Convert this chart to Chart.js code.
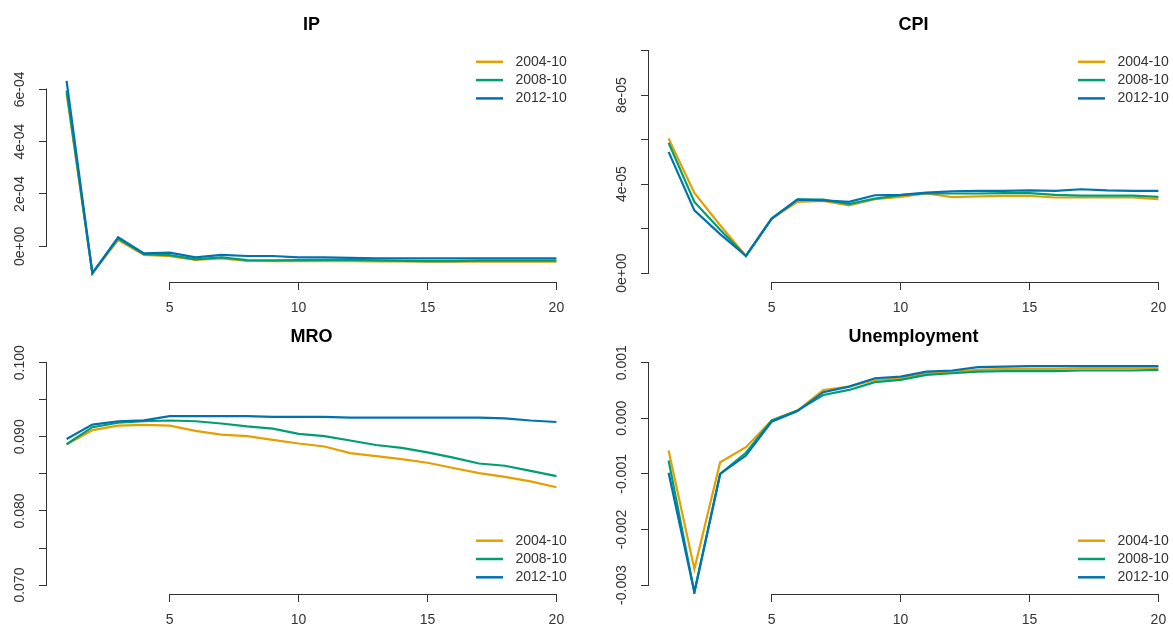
<!DOCTYPE html>
<html>
<head>
<meta charset="utf-8">
<script src="https://cdn.jsdelivr.net/npm/chart.js@4.4.1/dist/chart.umd.min.js"></script>
<style>
html,body{margin:0;padding:0;background:#fff;overflow:hidden;width:1173px;height:630px;}
#wrap{position:relative;width:1173px;height:630px;overflow:hidden;background:#fff;}
canvas{position:absolute;}
</style>
</head>
<body>
<div id="wrap">
<canvas id="cIP" width="603" height="318" style="left:0px;top:0px"></canvas>
<canvas id="cCPI" width="603" height="318" style="left:602px;top:0px"></canvas>
<canvas id="cMRO" width="603" height="318" style="left:0px;top:312px"></canvas>
<canvas id="cUN" width="603" height="318" style="left:602px;top:312px"></canvas>
</div>
<script>
// ---------------- data ----------------
const horizons = [1,2,3,4,5,6,7,8,9,10,11,12,13,14,15,16,17,18,19,20];
const seriesLabels = ['2004-10','2008-10','2012-10'];
const xTickValues = [5,10,15,20];
const xTickLabels = ['5','10','15','20'];

const ip2004 = [5.85e-4,-1.03e-4,2.4e-5,-3.3e-5,-3.8e-5,-5.2e-5,-4.6e-5,-5.6e-5,-5.7e-5,-5.7e-5,-5.7e-5,-5.7e-5,-5.8e-5,-5.8e-5,-5.9e-5,-5.9e-5,-5.9e-5,-5.9e-5,-5.9e-5,-5.9e-5];
const ip2008 = [5.95e-4,-1.03e-4,3.0e-5,-3.0e-5,-3.4e-5,-5.0e-5,-4.2e-5,-5.3e-5,-5.4e-5,-5.3e-5,-5.2e-5,-5.2e-5,-5.4e-5,-5.6e-5,-5.7e-5,-5.7e-5,-5.5e-5,-5.5e-5,-5.5e-5,-5.5e-5];
const ip2012 = [6.32e-4,-1.03e-4,3.5e-5,-2.7e-5,-2.4e-5,-4.2e-5,-3.3e-5,-3.7e-5,-3.7e-5,-4.2e-5,-4.2e-5,-4.4e-5,-4.6e-5,-4.6e-5,-4.6e-5,-4.6e-5,-4.6e-5,-4.6e-5,-4.6e-5,-4.6e-5];
const ipYTicks = [0,2e-4,4e-4,6e-4];
const ipYLabels = ['0e+00','2e-04','4e-04','6e-04'];

const cpi2004 = [6.05e-5,3.6e-5,2.15e-5,0.77e-5,2.45e-5,3.2e-5,3.25e-5,3.05e-5,3.32e-5,3.43e-5,3.58e-5,3.42e-5,3.45e-5,3.47e-5,3.47e-5,3.4e-5,3.4e-5,3.4e-5,3.4e-5,3.32e-5];
const cpi2008 = [5.86e-5,3.2e-5,1.95e-5,0.77e-5,2.45e-5,3.32e-5,3.3e-5,3.1e-5,3.35e-5,3.5e-5,3.6e-5,3.58e-5,3.58e-5,3.6e-5,3.6e-5,3.52e-5,3.48e-5,3.48e-5,3.48e-5,3.43e-5];
const cpi2012 = [5.45e-5,2.82e-5,1.75e-5,0.77e-5,2.45e-5,3.3e-5,3.27e-5,3.2e-5,3.5e-5,3.52e-5,3.62e-5,3.68e-5,3.7e-5,3.7e-5,3.72e-5,3.7e-5,3.77e-5,3.72e-5,3.7e-5,3.7e-5];
const cpiYTicks = [0,2e-5,4e-5,6e-5,8e-5,1e-4];
const cpiYLabels = ['0e+00','','4e-05','','8e-05',''];

const mro2004 = [0.0890,0.0909,0.0915,0.0916,0.0915,0.0908,0.0903,0.0901,0.0896,0.0891,0.0887,0.0878,0.0874,0.0870,0.0865,0.0858,0.0851,0.0846,0.0840,0.0832];
const mro2008 = [0.0890,0.0913,0.0919,0.0921,0.0922,0.0921,0.0918,0.0914,0.0911,0.0904,0.0901,0.0895,0.0889,0.0885,0.0879,0.0872,0.0864,0.0861,0.0854,0.0847];
const mro2012 = [0.0897,0.09165,0.0921,0.09223,0.0928,0.0928,0.0928,0.0928,0.0927,0.0927,0.0927,0.0926,0.0926,0.0926,0.0926,0.0926,0.0926,0.0925,0.0922,0.0920];
const mroYTicks = [0.070,0.075,0.080,0.085,0.090,0.095,0.100];
const mroYLabels = ['0.070','','0.080','','0.090','','0.100'];

const un2004 = [-0.00058,-0.00271,-0.00079,-0.00052,-0.00004,0.00014,0.00051,0.00057,0.00069,0.00072,0.00081,0.00084,0.00087,0.00089,0.00089,0.00089,0.00090,0.00090,0.00090,0.00090];
const un2008 = [-0.00076,-0.00313,-0.00100,-0.00062,-0.00004,0.00014,0.00042,0.00051,0.00065,0.00069,0.00078,0.00081,0.00084,0.00085,0.00085,0.00085,0.00086,0.00086,0.00086,0.00087];
const un2012 = [-0.00098,-0.00313,-0.00100,-0.00067,-0.00006,0.00013,0.00047,0.00057,0.00072,0.00075,0.00084,0.00086,0.00092,0.00093,0.00094,0.00094,0.00094,0.00094,0.00094,0.00094];
const unYTicks = [-0.003,-0.002,-0.001,0.000,0.001];
const unYLabels = ['-0.003','-0.002','-0.001','0.000','0.001'];

// ---------------- style ----------------
const seriesColors = ['#E69F00','#009E73','#0072B2'];
const AXIS_COLOR = '#333333';
const TEXT_COLOR = '#333333';
const FONT_FAMILY = '"Liberation Sans", Arial, Helvetica, sans-serif';
Chart.defaults.font.family = FONT_FAMILY;

const rStyle = {
  id: 'rStyle',
  afterDraw(chart, args, opts) {
    const ctx = chart.ctx, ca = chart.chartArea;
    const xs = chart.scales.x, ys = chart.scales.y;
    ctx.save();
    ctx.strokeStyle = AXIS_COLOR;
    ctx.lineWidth = 1;
    // x axis line (first to last tick)
    const yb = Math.round(ca.bottom) + 0.5;
    ctx.beginPath();
    ctx.moveTo(Math.round(xs.getPixelForValue(xTickValues[0])) - 0.5, yb);
    ctx.lineTo(Math.round(xs.getPixelForValue(xTickValues[xTickValues.length - 1])) + 0.5, yb);
    ctx.stroke();
    // y axis line
    const yt = opts.yTicks;
    const xl = Math.round(ca.left) - 0.5;
    ctx.beginPath();
    ctx.moveTo(xl, Math.round(ys.getPixelForValue(yt[0])) + 0.5);
    ctx.lineTo(xl, Math.round(ys.getPixelForValue(yt[yt.length - 1])) - 0.5);
    ctx.stroke();
    // y tick labels (rotated, R style)
    ctx.fillStyle = TEXT_COLOR;
    ctx.font = '14px ' + FONT_FAMILY;
    ctx.textAlign = 'center';
    ctx.textBaseline = 'middle';
    yt.forEach((v, i) => {
      const lab = opts.yLabels[i];
      if (!lab) return;
      ctx.save();
      ctx.translate(ca.left - 27, ys.getPixelForValue(v));
      ctx.rotate(-Math.PI / 2);
      ctx.fillText(lab, 0, 0);
      ctx.restore();
    });
    // legend
    chart.data.datasets.forEach((ds, i) => {
      const y = opts.legendPos === 'top' ? ca.top + 20 + i * 18.3 : ca.bottom - 53.3 + i * 18.3;
      ctx.strokeStyle = ds.borderColor;
      ctx.lineWidth = 2.5;
      ctx.beginPath();
      ctx.moveTo(ca.right - 100, y);
      ctx.lineTo(ca.right - 73, y);
      ctx.stroke();
      ctx.fillStyle = TEXT_COLOR;
      ctx.textAlign = 'left';
      ctx.fillText(ds.label, ca.right - 60.6, y);
    });
    ctx.restore();
  }
};

function gridOpts() {
  return { drawOnChartArea: false, drawTicks: true, tickLength: 8, tickColor: AXIS_COLOR, tickWidth: 1 };
}

function makePanel(id, title, series, yMin, yMax, yTicks, yLabels, legendPos) {
  new Chart(document.getElementById(id), {
    type: 'line',
    data: {
      datasets: series.map((vals, i) => ({
        label: seriesLabels[i],
        data: horizons.map((h, j) => ({ x: h, y: vals[j] })),
        borderColor: seriesColors[i],
        backgroundColor: seriesColors[i],
        borderWidth: 2.2,
        pointRadius: 0,
        tension: 0,
        fill: false,
        order: 3 - i
      }))
    },
    options: {
      responsive: false,
      animation: false,
      devicePixelRatio: 1,
      layout: { padding: { left: 0, right: 27, top: 0, bottom: 0 } },
      plugins: {
        legend: { display: false },
        tooltip: { enabled: false },
        title: {
          display: true, text: title, fullSize: false, color: '#000',
          font: { size: 18, weight: 'bold' },
          padding: { top: 14.2, bottom: 6 }
        },
        rStyle: { yTicks, yLabels, legendPos }
      },
      scales: {
        x: {
          type: 'linear', min: 0.24, max: 20.76,
          afterBuildTicks: s => { s.ticks = xTickValues.map(v => ({ value: v })); },
          afterFit: s => { s.height = 36; },
          ticks: { autoSkip: false, maxRotation: 0, font: { size: 14 }, color: TEXT_COLOR, padding: 10,
                   callback: (v, i) => xTickLabels[i] },
          grid: gridOpts(),
          border: { display: false }
        },
        y: {
          type: 'linear', min: yMin, max: yMax,
          afterBuildTicks: s => { s.ticks = yTicks.map(v => ({ value: v })); },
          afterFit: s => { s.width = 47; },
          ticks: { display: false },
          grid: gridOpts(),
          border: { display: false }
        }
      }
    },
    plugins: [rStyle]
  });
}

makePanel('cIP', 'IP', [ip2004, ip2008, ip2012], -1.364e-4, 7.816e-4, ipYTicks, ipYLabels, 'top');
makePanel('cCPI', 'CPI', [cpi2004, cpi2008, cpi2012], -0.4e-5, 1.04e-4, cpiYTicks, cpiYLabels, 'top');
makePanel('cMRO', 'MRO', [mro2004, mro2008, mro2012], 0.0688, 0.1012, mroYTicks, mroYLabels, 'bottom');
makePanel('cUN', 'Unemployment', [un2004, un2008, un2012], -0.00316, 0.00116, unYTicks, unYLabels, 'bottom');
</script>
</body>
</html>
